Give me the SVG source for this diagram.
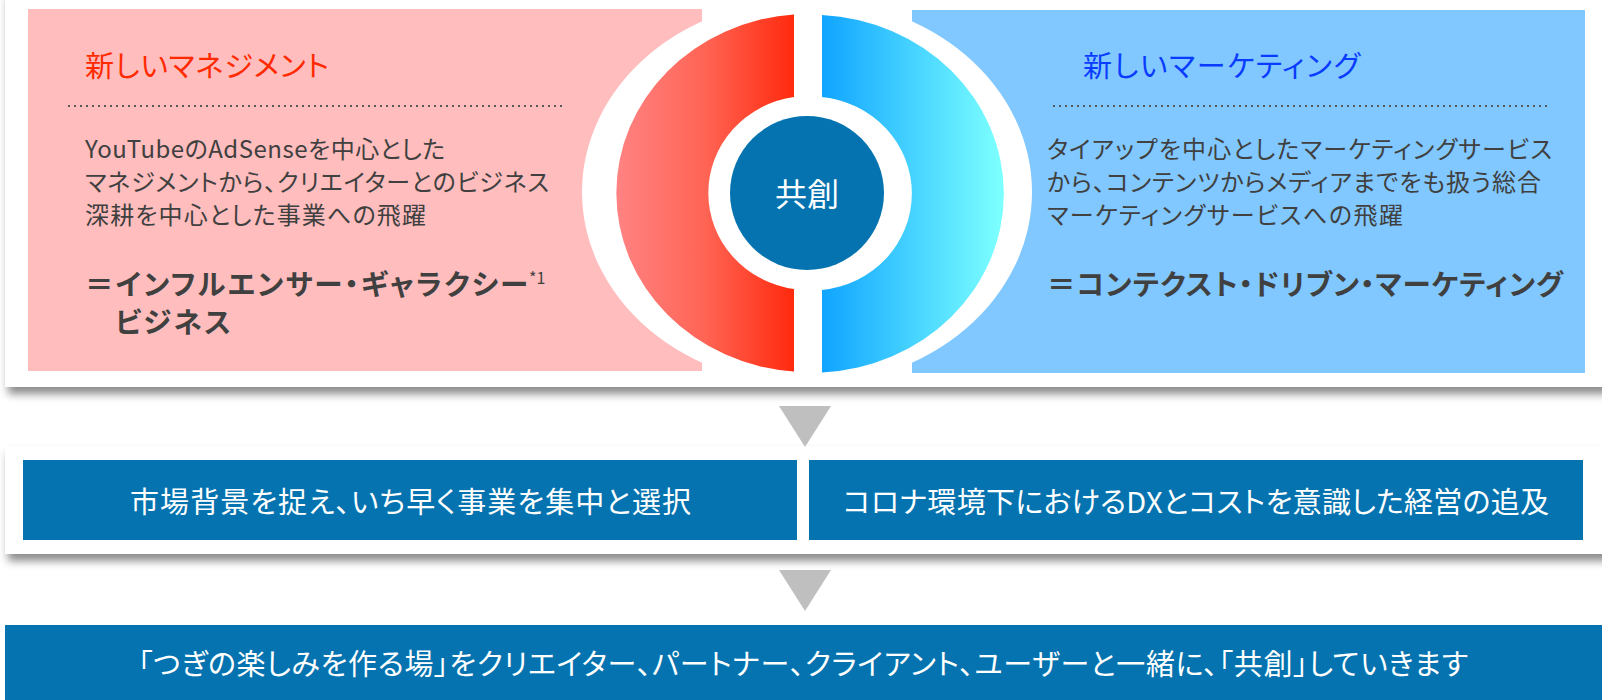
<svg xmlns="http://www.w3.org/2000/svg" width="1602" height="700" viewBox="0 0 1602 700">
<defs>
<linearGradient id="gRed" gradientUnits="userSpaceOnUse" x1="616" y1="0" x2="794" y2="0">
<stop offset="0" stop-color="#FF8383"/>
<stop offset="0.5" stop-color="#FF6454"/>
<stop offset="1" stop-color="#FF2A0E"/>
</linearGradient>
<linearGradient id="gBlue" gradientUnits="userSpaceOnUse" x1="822" y1="0" x2="1000" y2="0">
<stop offset="0" stop-color="#10A4FF"/>
<stop offset="0.5" stop-color="#45D2FF"/>
<stop offset="1" stop-color="#7CFFFF"/>
</linearGradient>
<filter id="shadow" x="-5%" y="-20%" width="110%" height="150%">
<feDropShadow dx="3" dy="7" stdDeviation="4" flood-color="#000" flood-opacity="0.45"/>
</filter>
</defs>
<style>
text{font-family:"Noto Sans CJK JP","Noto Sans CJK SC",sans-serif;font-feature-settings:"palt";}
.title{font-size:29px;}
.body{font-size:24px;fill:#404040;}
.bold{font-size:28.5px;font-weight:bold;fill:#404040;}
.sup{font-size:16px;fill:#404040;}
.white{fill:#fff;font-size:29px;}
.dots{stroke:#595959;stroke-width:2;stroke-dasharray:2 4;fill:none;}
.dark{fill:#0473AF;}
.tri{fill:#BFBFBF;}
</style>
<rect width="1602" height="700" fill="#fff"/>
<g id="panel-top">
<rect x="5" y="-10" width="1610" height="397" fill="#fff" filter="url(#shadow)"/>
</g>
<g id="node-management">
<rect x="28" y="9" width="674" height="362" fill="#FFBDBD"/>
<text class="title" x="85" y="77" fill="#FF2A00" textLength="244" lengthAdjust="spacing">新しいマネジメント</text>
<line class="dots" x1="68" y1="106" x2="566" y2="106"/>
<text class="body" x="85" y="158" textLength="360" lengthAdjust="spacing">YouTubeのAdSenseを中心とした</text>
<text class="body" x="85" y="191" textLength="464" lengthAdjust="spacing">マネジメントから、クリエイターとのビジネス</text>
<text class="body" x="85" y="224" textLength="341" lengthAdjust="spacing">深耕を中心とした事業への飛躍</text>
<text class="bold" x="85" y="295" textLength="443" lengthAdjust="spacing">＝インフルエンサー・ギャラクシー</text>
<text class="sup" x="529" y="284">*1</text>
<text class="bold" x="115" y="333" textLength="116" lengthAdjust="spacing">ビジネス</text>
</g>
<g id="node-marketing">
<rect x="912" y="10" width="673" height="363" fill="#80C8FF"/>
<text class="title" x="1083" y="77" fill="#0A3CFF" textLength="277" lengthAdjust="spacing">新しいマーケティング</text>
<line class="dots" x1="1053" y1="106" x2="1551" y2="106"/>
<text class="body" x="1047" y="158" textLength="505" lengthAdjust="spacing">タイアップを中心としたマーケティングサービス</text>
<text class="body" x="1047" y="191" textLength="494" lengthAdjust="spacing">から、コンテンツからメディアまでをも扱う総合</text>
<text class="body" x="1047" y="224" textLength="356" lengthAdjust="spacing">マーケティングサービスへの飛躍</text>
<text class="bold" x="1047" y="295" textLength="516" lengthAdjust="spacing">＝コンテクスト・ドリブン・マーケティング</text>
</g>
<g id="node-cocreation">
<ellipse cx="807" cy="192" rx="225" ry="193" fill="#fff"/>
<path d="M794 14.5 A192 179 0 0 0 794 371.5 L794 289 A100 97 0 0 1 794 97 Z" fill="url(#gRed)"/>
<path d="M822 15 A192 179 0 0 1 822 372.5 L822 290 A100 97 0 0 0 822 97 Z" fill="url(#gBlue)"/>
<circle class="dark" cx="807" cy="193" r="77"/>
<text x="807" y="206" text-anchor="middle" fill="#fff" font-size="32">共創</text>
</g>
<g id="panel-middle">
<rect x="5" y="446" width="1610" height="108" fill="#fff" filter="url(#shadow)"/>
</g>
<g id="node-market">
<rect class="dark" x="23" y="460" width="774" height="80"/>
<text class="white" x="130" y="513" textLength="561" lengthAdjust="spacing">市場背景を捉え、いち早く事業を集中と選択</text>
</g>
<g id="node-dx">
<rect class="dark" x="809" y="460" width="774" height="80"/>
<text class="white" x="843" y="513" textLength="706" lengthAdjust="spacing">コロナ環境下におけるDXとコストを意識した経営の追及</text>
</g>
<g id="node-bottom">
<rect class="dark" x="5" y="625" width="1600" height="80"/>
<text class="white" x="138" y="675" textLength="1330" lengthAdjust="spacing">「つぎの楽しみを作る場」をクリエイター、パートナー、クライアント、ユーザーと一緒に、「共創」していきます</text>
</g>
<g id="connectors">
<polygon class="tri" points="779,406 831,406 805,447"/>
<polygon class="tri" points="779,570 831,570 805,611"/>
</g>
</svg>
